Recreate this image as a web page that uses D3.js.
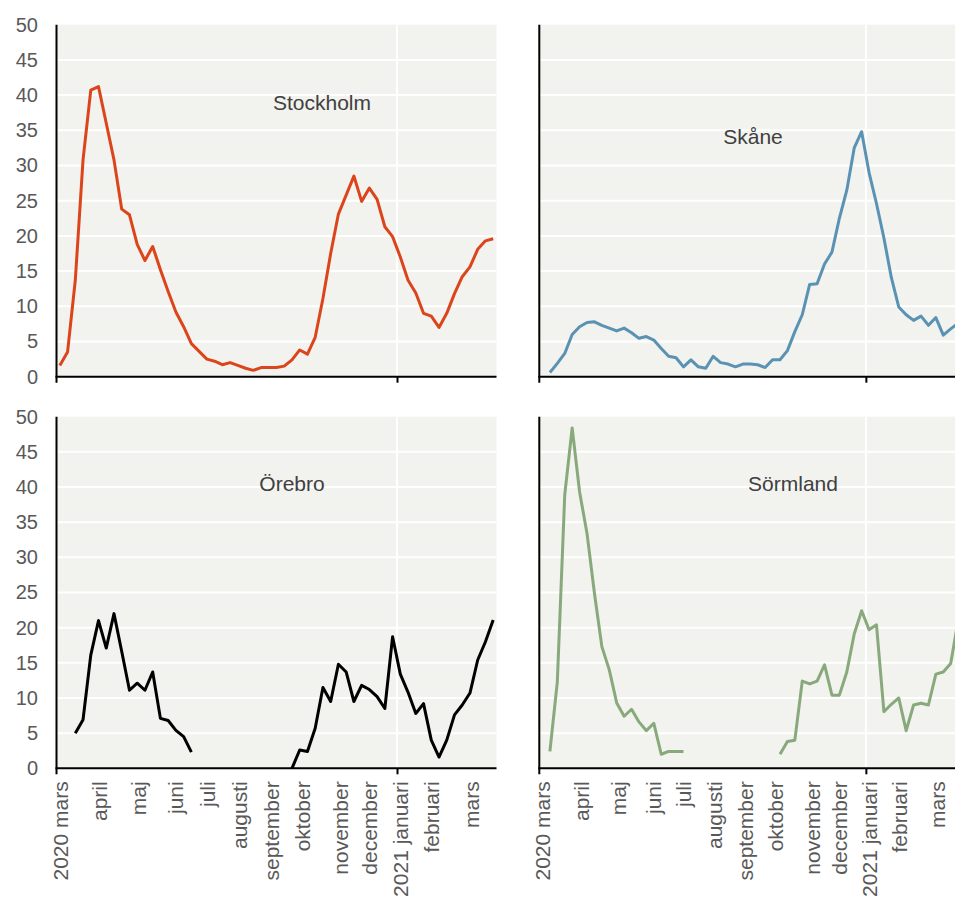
<!DOCTYPE html>
<html>
<head>
<meta charset="utf-8">
<script src="https://cdn.jsdelivr.net/npm/d3@7"></script>
<style>
  html, body { margin: 0; padding: 0; background: #ffffff; }
  svg { display: block; font-family: Arial, "Liberation Sans", sans-serif; }
</style>
</head>
<body>
<svg id="chart" width="955" height="897"></svg>
<script>
// Weekly observations (Monday of each ISO week, 2020 v10 – 2021 v13)
const weeks = [
  "2020-03-02","2020-03-09","2020-03-16","2020-03-23","2020-03-30",
  "2020-04-06","2020-04-13","2020-04-20","2020-04-27",
  "2020-05-04","2020-05-11","2020-05-18","2020-05-25",
  "2020-06-01","2020-06-08","2020-06-15","2020-06-22","2020-06-29",
  "2020-07-06","2020-07-13","2020-07-20","2020-07-27",
  "2020-08-03","2020-08-10","2020-08-17","2020-08-24","2020-08-31",
  "2020-09-07","2020-09-14","2020-09-21","2020-09-28",
  "2020-10-05","2020-10-12","2020-10-19","2020-10-26",
  "2020-11-02","2020-11-09","2020-11-16","2020-11-23","2020-11-30",
  "2020-12-07","2020-12-14","2020-12-21","2020-12-28",
  "2021-01-04","2021-01-11","2021-01-18","2021-01-25",
  "2021-02-01","2021-02-08","2021-02-15","2021-02-22",
  "2021-03-01","2021-03-08","2021-03-15","2021-03-22","2021-03-29"
];

const stockholm = [
  1.6, 3.5, 13.7, 30.8, 40.7, 41.2, 36.0, 30.8, 23.8, 23.0, 18.8, 16.5, 18.5,
  15.2, 12.1, 9.2, 7.1, 4.7, 3.6, 2.5, 2.2, 1.7, 2.0, 1.6, 1.2, 0.9, 1.3,
  1.3, 1.3, 1.5, 2.4, 3.8, 3.2, 5.6, 11.1, 17.5, 23.1, 25.8, 28.5, 24.9,
  26.8, 25.2, 21.3, 19.9, 17.0, 13.7, 11.9, 9.0, 8.6, 7.0, 9.0, 11.8, 14.2,
  15.6, 18.1, 19.3, 19.6
];

const skane = [
  null, 0.6, 1.9, 3.3, 6.0, 7.1, 7.7, 7.8, 7.3, 6.9, 6.5, 6.9, 6.25,
  5.45, 5.7, 5.2, 4.0, 2.9, 2.7, 1.4, 2.4, 1.4, 1.2, 2.9, 2.0, 1.8, 1.4,
  1.8, 1.8, 1.7, 1.3, 2.4, 2.4, 3.7, 6.4, 8.8, 13.1, 13.2, 16.0, 17.7,
  22.5, 26.5, 32.5, 34.8, 29.0, 24.6, 19.7, 14.1, 9.9, 8.8, 8.0, 8.6, 7.3,
  8.4, 5.9, 6.8, 7.6
];

const orebro = [
  null, null, 5.0, 6.9, 16.1, 21.0, 17.1, 22.0, 16.6, 11.1, 12.1, 11.1, 13.7,
  7.1, 6.8, 5.4, 4.5, 2.3, null, null, null, null, null, null, null, null, null,
  null, null, null, 0.0, 2.6, 2.4, 5.7, 11.5, 9.5, 14.8, 13.7, 9.5, 11.8,
  11.2, 10.2, 8.5, 18.7, 13.4, 10.8, 7.8, 9.2, 4.0, 1.6, 4.0, 7.6, 9.0,
  10.7, 15.4, 18.0, 21.1
];

const sormland = [
  null, 2.4, 12.3, 38.9, 48.4, 39.3, 33.4, 24.9, 17.3, 14.0, 9.3, 7.4, 8.4,
  6.6, 5.35, 6.4, 2.0, 2.4, 2.4, 2.4, null, null, null, null, null, null, null,
  null, null, null, null, null, 2.0, 3.8, 4.0, 12.4, 12.0, 12.4, 14.7, 10.4,
  10.4, 13.7, 19.1, 22.4, 19.7, 20.4, 8.05, 9.1, 10.0, 5.35, 9.0, 9.25, 9.0,
  13.4, 13.7, 14.9, 21.0
];

// Month labels along the time axis and the dates they sit at
const monthLabels = [
  "2020 mars", "april", "maj", "juni", "juli", "augusti", "september",
  "oktober", "november", "december", "2021 januari", "februari", "mars"
];
const monthLabelDates = [
  "2020-03-02", "2020-04-07", "2020-05-12", "2020-06-14", "2020-07-13",
  "2020-08-11", "2020-09-09", "2020-10-07", "2020-11-11", "2020-12-07",
  "2021-01-04", "2021-02-01", "2021-03-09"
];

const yTicks = [0, 5, 10, 15, 20, 25, 30, 35, 40, 45, 50];

// ---------------------------------------------------------------------------
const parse = d3.timeParse("%Y-%m-%d");
const weekDates = weeks.map(parse);
const labelDates = monthLabelDates.map(parse);
const xDomain = [parse("2020-02-28"), parse("2021-04-01")];
const yearStart = parse("2021-01-01");

// Panel grid: column x-ranges and row y-ranges in pixels
const cols = [[56.5, 496.5], [539.3, 961.3]];
const rows = [[376.7, 24.7], [768.3, 416.7]];

const panels = [
  { name: "Stockholm", values: stockholm, color: "#dc451c", col: 0, row: 0, title: [322, 103] },
  { name: "Skåne",     values: skane,     color: "#5a92b3", col: 1, row: 0, title: [753, 137] },
  { name: "Örebro",    values: orebro,    color: "#000000", col: 0, row: 1, title: [292, 484] },
  { name: "Sörmland",  values: sormland,  color: "#88a97b", col: 1, row: 1, title: [793, 484] }
];

const svg = d3.select("#chart");

panels.forEach(p => {
  const x = d3.scaleTime().domain(xDomain).range(cols[p.col]);
  const y = d3.scaleLinear().domain([0, 50]).range(rows[p.row]);
  const [x0, x1] = x.range();
  const g = svg.append("g").attr("class", "panel");

  // plot background
  g.append("rect")
    .attr("x", x0).attr("y", y(50))
    .attr("width", x1 - x0).attr("height", y(0) - y(50))
    .attr("fill", "#f2f2ee");

  // horizontal grid
  g.append("g").selectAll("line")
    .data(yTicks.filter(v => v > 0 && v < 50))
    .join("line")
    .attr("x1", x0).attr("x2", x1)
    .attr("y1", d => y(d)).attr("y2", d => y(d))
    .attr("stroke", "#ffffff").attr("stroke-width", 2);

  // vertical grid at the turn of the year
  g.append("line")
    .attr("x1", x(yearStart)).attr("x2", x(yearStart))
    .attr("y1", y(50)).attr("y2", y(0))
    .attr("stroke", "#ffffff").attr("stroke-width", 2);

  // series line
  const line = d3.line()
    .defined(d => d.v !== null)
    .x(d => x(d.date))
    .y(d => y(d.v));
  g.append("path")
    .datum(weekDates.map((d, i) => ({ date: d, v: p.values[i] })))
    .attr("d", line)
    .attr("fill", "none")
    .attr("stroke", p.color)
    .attr("stroke-width", 3)
    .attr("stroke-linejoin", "round");

  // y axis labels (left column only)
  const yAxis = d3.axisLeft(y)
    .tickValues(p.col === 0 ? yTicks : [])
    .tickSize(0)
    .tickPadding(x0 - 38);
  const ya = g.append("g").attr("transform", `translate(${x0},0)`).call(yAxis);
  ya.select(".domain").remove();
  ya.selectAll("text")
    .attr("font-size", 20)
    .attr("font-family", "Arial, 'Liberation Sans', sans-serif")
    .attr("fill", "#595959");

  // axis lines
  g.append("line")
    .attr("x1", x0).attr("x2", x0)
    .attr("y1", y(50)).attr("y2", y(0) + 6)
    .attr("stroke", "#000").attr("stroke-width", 2);
  g.append("line")
    .attr("x1", x0 - 1).attr("x2", x1)
    .attr("y1", y(0)).attr("y2", y(0))
    .attr("stroke", "#000").attr("stroke-width", 2);

  // year tick
  const tickAxis = d3.axisBottom(x).tickValues([yearStart]).tickSize(6).tickFormat("");
  const ta = g.append("g").attr("transform", `translate(0,${y(0)})`).call(tickAxis);
  ta.select(".domain").remove();
  ta.selectAll("line").attr("stroke", "#000").attr("stroke-width", 2);

  // month labels under the lower row
  if (p.row === 1) {
    const labelAxis = d3.axisBottom(x)
      .tickValues(labelDates)
      .tickSize(0)
      .tickFormat((d, i) => monthLabels[i]);
    const la = g.append("g").attr("transform", `translate(0,${y(0)})`).call(labelAxis);
    la.select(".domain").remove();
    la.selectAll("text")
      .attr("transform", "rotate(-90)")
      .attr("text-anchor", "end")
      .attr("x", -13)
      .attr("y", 0)
      .attr("dy", "0.35em")
      .attr("font-size", 21)
      .attr("font-family", "Arial, 'Liberation Sans', sans-serif")
      .attr("fill", "#595959");
  }

  // panel title
  g.append("text")
    .attr("x", p.title[0]).attr("y", p.title[1])
    .attr("dy", "0.35em")
    .attr("text-anchor", "middle")
    .attr("font-size", 21)
    .attr("fill", "#404040")
    .text(p.name);
});
</script>
</body>
</html>
